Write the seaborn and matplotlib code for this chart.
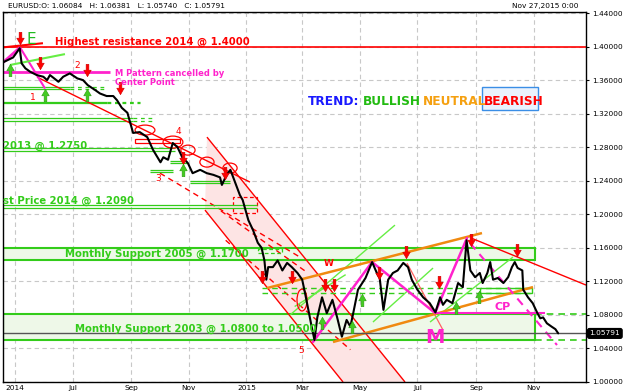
import matplotlib
matplotlib.use("Agg")
import matplotlib.pyplot as plt
import matplotlib.transforms as mtrans
from matplotlib.path import Path
from matplotlib.patches import Rectangle, Ellipse, Polygon
import numpy as np
import pandas as pd
import seaborn as sns

# ---------------- data (x = days since 2014-05-01) ----------------
days = [-13, -2, 5, 7, 11, 16, 23, 30, 34, 37, 46, 51, 58, 66, 72, 77, 85, 90, 97, 104,
        108, 113, 119, 125, 132, 140, 146, 154, 157, 162, 167, 172, 177, 183, 188, 196, 203, 210, 217, 219,
        224, 228, 231, 235, 238, 241, 247, 252, 257, 261, 264, 266, 268, 273, 278, 283, 288, 293, 299, 304,
        307, 310, 314, 317, 320, 325, 330, 336, 341, 346, 351, 355, 358, 363, 371, 378, 383, 386, 390, 395,
        400, 405, 411, 416, 420, 426, 432, 439, 445, 450, 453, 457, 463, 469, 474, 478, 482, 487, 492, 495,
        500, 503, 506, 511, 517, 522, 526, 529, 532, 537, 538, 543, 548, 553, 556, 559, 563, 568, 572, 575]
price = [1.381, 1.387, 1.398, 1.380, 1.374, 1.370, 1.366, 1.364, 1.360, 1.366, 1.358, 1.364, 1.368, 1.362, 1.360, 1.354, 1.348, 1.344, 1.341, 1.341,
         1.336, 1.327, 1.321, 1.297, 1.298, 1.292, 1.277, 1.262, 1.268, 1.265, 1.285, 1.280, 1.268, 1.261, 1.249, 1.253, 1.249, 1.247, 1.244, 1.235,
         1.247, 1.253, 1.244, 1.232, 1.223, 1.217, 1.193, 1.181, 1.166, 1.160, 1.145, 1.122, 1.137, 1.137, 1.145, 1.133, 1.142, 1.137, 1.130, 1.122,
         1.106, 1.089, 1.066, 1.050, 1.077, 1.101, 1.082, 1.098, 1.077, 1.054, 1.074, 1.066, 1.082, 1.110, 1.124, 1.143, 1.130, 1.124, 1.086, 1.122,
         1.130, 1.133, 1.142, 1.137, 1.122, 1.110, 1.101, 1.094, 1.083, 1.101, 1.092, 1.098, 1.094, 1.118, 1.113, 1.169, 1.133, 1.125, 1.130, 1.118,
         1.130, 1.143, 1.122, 1.124, 1.118, 1.125, 1.137, 1.143, 1.136, 1.133, 1.110, 1.101, 1.094, 1.082, 1.076, 1.077, 1.070, 1.066, 1.063, 1.058]

tick_days = [0, 61, 123, 184, 245, 304, 365, 426, 488, 549]
tick_labels = ["2014", "Jul", "Sep", "Nov", "2015", "Mar", "May", "Jul", "Sep", "Nov"]
y_ticks = [1.00, 1.04, 1.08, 1.12, 1.16, 1.20, 1.24, 1.28, 1.32, 1.36, 1.40, 1.44]
last_close = 1.05791
header = "EURUSD:O: 1.06084   H: 1.06381   L: 1.05740   C: 1.05791"
stamp = "Nov 27,2015 0:00"

# annotation objects (data coordinates: day, price)
down_arrows_x = [5, 26, 76, 111, 178, 222, 261, 293, 328, 338, 385, 414, 449, 483, 531]
down_arrows_y = [1.410, 1.380, 1.372, 1.350, 1.267, 1.249, 1.125, 1.125, 1.1156, 1.1156, 1.130, 1.155, 1.119, 1.169, 1.157]
up_arrows_x = [-5, 32, 76, 178, 325, 357, 367, 467, 491]
up_arrows_y = [1.372, 1.342, 1.342, 1.2527, 1.0703, 1.0656, 1.0977, 1.0882, 1.1013]

# ---------------- figure ----------------
sns.set_theme(style="white")
plt.rcParams["font.family"] = ["DejaVu Sans"]
fig = plt.figure(figsize=(6.25, 3.92), dpi=100)
fig.patch.set_facecolor("white")
ax = fig.add_axes([3 / 625, 10 / 392, 583 / 625, 370 / 392])
ax.set_facecolor("white")

XMIN, XMAX = -12.7, 604.4
ax.set_xlim(XMIN, XMAX)
ax.set_ylim(1.0, 1.4412)

GREEN = "#33cc1a"
LIME = "#66ee44"
RED = "#ff0000"
MAG = "#ff22cc"
ORANGE = "#f08a10"
BANDFILL = "#eef8e8"

# grid
for d in tick_days:
    ax.axvline(d, color="#c8c8c8", lw=0.8, ls=(0, (4, 3)), zorder=0)
for yv in y_ticks:
    ax.axhline(yv, color="#c8c8c8", lw=0.8, ls=(0, (4, 3)), zorder=0)

def seg(x0, y0, x1, y1, color, lw=1.0, ls="-", z=2):
    ax.plot([x0, x1], [y0, y1], color=color, lw=lw, ls=ls, zorder=z, solid_capstyle="butt")

# pink descending channel
ax.add_patch(Polygon([(203.2, 1.292), (412.8, 1.0), (347.2, 1.0), (201.1, 1.205)],
                     closed=True, facecolor="#fde4e4", edgecolor="none", zorder=0.5))
seg(203.2, 1.292, 412.8, 1.0, RED, 1.0)
seg(201.1, 1.205, 347.2, 1.0, RED, 1.0)
seg(153.5, 1.249, 300, 1.150, RED, 1.0, (0, (4, 3)))
seg(218, 1.204, 310, 1.130, RED, 1.0, (0, (4, 3)))
seg(223, 1.169, 355, 1.0385, RED, 1.0, (0, (4, 3)))
ax.add_patch(Rectangle((230.8, 1.2014), 25.4, 0.0191, fill=False, edgecolor=RED, lw=0.9, ls=(0, (3, 2)), zorder=2))

# bands
ax.add_patch(Rectangle((XMIN, 1.1454), 550.4 - XMIN, 1.1597 - 1.1454, facecolor=BANDFILL, edgecolor=GREEN, lw=1.5, zorder=1))
ax.add_patch(Rectangle((XMIN, 1.050), 550.4 - XMIN, 1.081 - 1.050, facecolor=BANDFILL, edgecolor=GREEN, lw=1.5, zorder=1))
seg(550.4, 1.081, XMAX, 1.081, GREEN, 1.2, (0, (4, 3)))
seg(550.4, 1.050, XMAX, 1.050, GREEN, 1.2, (0, (4, 3)))
seg(261.4, 1.112, 547.2, 1.112, GREEN, 1.0, (0, (4, 3)))
seg(261.4, 1.106, 547.2, 1.106, GREEN, 1.0, (0, (4, 3)))
ax.add_patch(Rectangle((492.2, 1.106), 55, 0.006, fill=False, edgecolor=GREEN, lw=1.0, zorder=2))
ax.add_patch(Rectangle((257.2, 1.1538), 25.4, 0.0047, fill=False, edgecolor=GREEN, lw=0.9, ls=(0, (3, 2)), zorder=2))

# green horizontal levels top-left
for (y1, y2, xs, xd) in [(1.3513, 1.3493, 58.2, 95.3), (1.3341, 1.3322, 97.4, 132.3), (1.3147, 1.3111, 124.9, 145.0)]:
    for yy in (y1, y2):
        seg(XMIN, yy, xs, yy, GREEN, 0.9)
        seg(xs, yy, xd, yy, GREEN, 0.9, (0, (3, 3)))
for yy in (1.2789, 1.2754):
    seg(XMIN, yy, 169.4, yy, GREEN, 0.9)
for yy in (1.2110, 1.2074):
    seg(XMIN, yy, 256, yy, GREEN, 0.9)
for (xa, xb, ya, yb) in [(142.9, 167.2, 1.2527, 1.2503), (164, 182, 1.2632, 1.2615), (185, 227.6, 1.2396, 1.2372)]:
    seg(xa, ya, xb, ya, GREEN, 0.9)
    seg(xa, yb, xb, yb, GREEN, 0.9)

# red resistance
ax.axhline(1.40, color=RED, lw=1.2, zorder=2)
seg(XMIN, 1.399, 29.6, 1.404, RED, 1.5)
seg(23.3, 1.3636, 248.7, 1.2384, RED, 1.0)
ax.add_patch(Rectangle((127, 1.2849), 47.6, 0.0048, fill=False, edgecolor=RED, lw=0.9, zorder=2))
for (cx, cy, w, h) in [(137.6, 1.3004, 21, 0.0119), (167.2, 1.2861, 21, 0.0143), (183.1, 1.2765, 15, 0.0119),
                       (203.2, 1.2622, 15, 0.0119), (227.6, 1.2551, 15, 0.0119), (303.8, 1.0977, 10.6, 0.026)]:
    ax.add_patch(Ellipse((cx, cy), w, h, fill=False, edgecolor=RED, lw=0.9, zorder=3))
seg(482.7, 1.1717, XMAX, 1.1156, RED, 1.0)
seg(414.9, 1.1418, 453, 1.062, "#ff6060", 0.9)

# magenta M top-left
seg(XMIN, 1.381, 5.3, 1.399, MAG, 2.0)
seg(5.3, 1.399, 31.8, 1.350, MAG, 1.5)
seg(XMIN, 1.3695, 100.6, 1.3695, MAG, 2.0)
seg(-5.3, 1.378, 52.9, 1.391, LIME, 1.5)

# lime diagonal lines
for (xa, ya, xb, yb) in [(291.1, 1.0799, 402.2, 1.1871), (378.9, 1.0715, 442.5, 1.1359), (439.3, 1.0715, 527.1, 1.149),
                         (296, 1.090, 350, 1.128)]:
    seg(xa, ya, xb, yb, LIME, 1.0)

# orange channel
seg(266.7, 1.1120, 494.3, 1.1776, ORANGE, 1.8)
seg(336.6, 1.0477, 548.3, 1.1132, ORANGE, 1.8)

# magenta M pattern mid
ax.plot([315.4, 377.9, 444.6, 478.4], [1.0477, 1.1431, 1.0823, 1.1717], color=MAG, lw=1.8, zorder=3)
seg(444.6, 1.0822, 561, 1.0822, MAG, 1.5)
seg(481.6, 1.1657, 573.7, 1.0441, MAG, 1.5, (0, (4, 3)))

# current price line
ax.axhline(last_close, color="#555555", lw=1.0, zorder=2)

# price series
df = pd.DataFrame({"day": days, "price": price})
sns.lineplot(data=df, x="day", y="price", ax=ax, color="black", lw=1.5, zorder=5, sort=False)

# arrows
av = [(-0.22, 1.0), (0.22, 1.0), (0.22, 0.05), (0.6, 0.05), (0.0, -1.0), (-0.6, 0.05), (-0.22, 0.05), (-0.22, 1.0)]
codes = [Path.MOVETO] + [Path.LINETO] * 6 + [Path.CLOSEPOLY]
down_marker = Path(av, codes)
up_marker = Path([(x, -y) for x, y in av], codes)
ax.scatter(down_arrows_x, down_arrows_y, marker=down_marker, s=80, color=RED, edgecolor="#cc0000", lw=0.4, zorder=7)
ax.scatter(up_arrows_x, up_arrows_y, marker=up_marker, s=80, color="#44cc22", edgecolor="#2a9a10", lw=0.4, zorder=7)

# texts
bold = dict(fontweight="bold", zorder=8)
ax.text(42, 1.4017, "Highest resistance 2014 @ 1.4000", color=RED, fontsize=7.3, va="baseline", **bold)
ax.text(12.7, 1.4025, "E", color="#22bb22", fontsize=11, va="baseline", zorder=8)
ax.text(106, 1.3683, "M Pattern cancelled by", color=MAG, fontsize=6.0, va="center", **bold)
ax.text(106, 1.3570, "Center Point", color=MAG, fontsize=6.0, va="center", **bold)
ax.text(-12.2, 1.2813, "2013 @ 1.2750", color=GREEN, fontsize=7.3, va="center", **bold)
ax.text(-12.2, 1.2161, "st Price 2014 @ 1.2090", color=GREEN, fontsize=7.3, va="center", ha="left", **bold)
ax.text(52.9, 1.1526, "Monthly Support 2005 @ 1.1700", color=GREEN, fontsize=7.3, va="center", **bold)
ax.text(63.5, 1.0632, "Monthly Support 2003 @ 1.0800 to 1.0500", color=GREEN, fontsize=7.3, va="center", **bold)
for (tx, ty, t) in [(19.1, 1.3394, "1"), (65.6, 1.3779, "2"), (151.4, 1.2432, "3"), (172.5, 1.2992, "4"), (302.7, 1.0381, "5")]:
    ax.text(tx, ty, t, color=RED, fontsize=6.5, ha="center", va="center", zorder=8)
ax.text(332.4, 1.1418, "W", color=RED, fontsize=6.5, ha="center", va="center", **bold)
ax.text(444.6, 1.0536, "M", color=MAG, fontsize=14, ha="center", va="center", **bold)
ax.text(516.5, 1.0894, "CP", color=MAG, fontsize=8, ha="center", va="center", **bold)

# trend box
ax.add_patch(Rectangle((494.3, 1.3242), 59.3, 0.0274, facecolor="#eaf2fd", edgecolor="#3a8ee6", lw=1.0, zorder=6))
ax.text(310.1, 1.335, "TREND:", color="#1a1aff", fontsize=8.7, va="center", **bold)
ax.text(368.4, 1.335, "BULLISH", color="#22bb11", fontsize=8.7, va="center", **bold)
ax.text(431.9, 1.335, "NEUTRAL", color="#f5a010", fontsize=8.7, va="center", **bold)
ax.text(496.4, 1.335, "BEARISH", color=RED, fontsize=8.7, va="center", **bold)

# axes styling
ax.yaxis.tick_right()
ax.set_yticks(y_ticks)
ax.set_yticklabels([f"{v:.5f}" for v in y_ticks])
ax.set_xticks(tick_days)
ax.set_xticklabels(tick_labels)
ax.tick_params(axis="y", right=True, length=2.5, width=0.8, pad=2, labelsize=5.3, colors="black")
ax.tick_params(axis="x", bottom=True, length=0, pad=2.5, labelsize=5.3, colors="black")
ax.set_xlabel("")
ax.set_ylabel("")
for s in ax.spines.values():
    s.set_visible(True)
    s.set_color("black")
    s.set_linewidth(1.0)

trans = mtrans.blended_transform_factory(ax.transAxes, ax.transData)
ax.text(1.006, last_close, f"{last_close:.5f}", transform=trans, color="white", fontsize=5.3,
        ha="left", va="center", zorder=10, clip_on=False,
        bbox=dict(boxstyle="round,pad=0.25", facecolor="black", edgecolor="black"))

fig.text(8 / 625, 1 - 6 / 392, header, fontsize=5.3, va="center", ha="left", color="black")
fig.text(578 / 625, 1 - 6 / 392, stamp, fontsize=5.3, va="center", ha="right", color="black")

fig.savefig("out.png", dpi=100, facecolor="white")
